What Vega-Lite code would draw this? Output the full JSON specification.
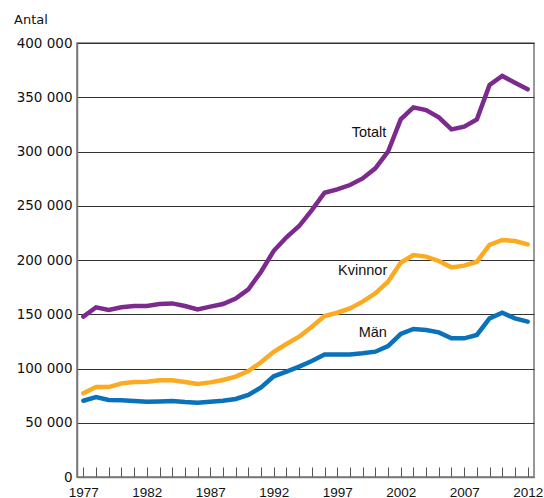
{
  "$schema": "https://vega.github.io/schema/vega-lite/v6.json",
  "width": 457,
  "height": 434,
  "autosize": {"type": "none"},
  "padding": {"left": 77, "top": 43, "right": 10, "bottom": 21},
  "background": "white",
  "config": {
    "view": {"stroke": "#777", "strokeWidth": 1.5},
    "font": "Liberation Sans"
  },
  "resolve": {"axis": {"x": "independent"}},
  "datasets": {
    "series": [
      {"year": 1977, "serie": "Totalt", "antal": 147800},
      {"year": 1978, "serie": "Totalt", "antal": 156400},
      {"year": 1979, "serie": "Totalt", "antal": 153900},
      {"year": 1980, "serie": "Totalt", "antal": 156400},
      {"year": 1981, "serie": "Totalt", "antal": 157600},
      {"year": 1982, "serie": "Totalt", "antal": 157600},
      {"year": 1983, "serie": "Totalt", "antal": 159400},
      {"year": 1984, "serie": "Totalt", "antal": 160000},
      {"year": 1985, "serie": "Totalt", "antal": 157600},
      {"year": 1986, "serie": "Totalt", "antal": 154500},
      {"year": 1987, "serie": "Totalt", "antal": 157000},
      {"year": 1988, "serie": "Totalt", "antal": 159400},
      {"year": 1989, "serie": "Totalt", "antal": 164400},
      {"year": 1990, "serie": "Totalt", "antal": 173000},
      {"year": 1991, "serie": "Totalt", "antal": 189200},
      {"year": 1992, "serie": "Totalt", "antal": 208500},
      {"year": 1993, "serie": "Totalt", "antal": 220900},
      {"year": 1994, "serie": "Totalt", "antal": 231300},
      {"year": 1995, "serie": "Totalt", "antal": 246000},
      {"year": 1996, "serie": "Totalt", "antal": 262000},
      {"year": 1997, "serie": "Totalt", "antal": 265100},
      {"year": 1998, "serie": "Totalt", "antal": 269100},
      {"year": 1999, "serie": "Totalt", "antal": 275200},
      {"year": 2000, "serie": "Totalt", "antal": 284500},
      {"year": 2001, "serie": "Totalt", "antal": 299800},
      {"year": 2002, "serie": "Totalt", "antal": 329600},
      {"year": 2003, "serie": "Totalt", "antal": 340700},
      {"year": 2004, "serie": "Totalt", "antal": 338200},
      {"year": 2005, "serie": "Totalt", "antal": 331500},
      {"year": 2006, "serie": "Totalt", "antal": 320400},
      {"year": 2007, "serie": "Totalt", "antal": 322900},
      {"year": 2008, "serie": "Totalt", "antal": 329600},
      {"year": 2009, "serie": "Totalt", "antal": 361300},
      {"year": 2010, "serie": "Totalt", "antal": 369600},
      {"year": 2011, "serie": "Totalt", "antal": 363400},
      {"year": 2012, "serie": "Totalt", "antal": 357300},
      {"year": 1977, "serie": "Kvinnor", "antal": 77100},
      {"year": 1978, "serie": "Kvinnor", "antal": 82900},
      {"year": 1979, "serie": "Kvinnor", "antal": 82900},
      {"year": 1980, "serie": "Kvinnor", "antal": 86300},
      {"year": 1981, "serie": "Kvinnor", "antal": 87600},
      {"year": 1982, "serie": "Kvinnor", "antal": 87900},
      {"year": 1983, "serie": "Kvinnor", "antal": 89100},
      {"year": 1984, "serie": "Kvinnor", "antal": 89100},
      {"year": 1985, "serie": "Kvinnor", "antal": 87600},
      {"year": 1986, "serie": "Kvinnor", "antal": 85700},
      {"year": 1987, "serie": "Kvinnor", "antal": 87200},
      {"year": 1988, "serie": "Kvinnor", "antal": 89400},
      {"year": 1989, "serie": "Kvinnor", "antal": 92500},
      {"year": 1990, "serie": "Kvinnor", "antal": 97700},
      {"year": 1991, "serie": "Kvinnor", "antal": 105700},
      {"year": 1992, "serie": "Kvinnor", "antal": 115400},
      {"year": 1993, "serie": "Kvinnor", "antal": 122600},
      {"year": 1994, "serie": "Kvinnor", "antal": 129300},
      {"year": 1995, "serie": "Kvinnor", "antal": 138500},
      {"year": 1996, "serie": "Kvinnor", "antal": 148400},
      {"year": 1997, "serie": "Kvinnor", "antal": 151400},
      {"year": 1998, "serie": "Kvinnor", "antal": 155400},
      {"year": 1999, "serie": "Kvinnor", "antal": 161600},
      {"year": 2000, "serie": "Kvinnor", "antal": 169300},
      {"year": 2001, "serie": "Kvinnor", "antal": 180000},
      {"year": 2002, "serie": "Kvinnor", "antal": 197500},
      {"year": 2003, "serie": "Kvinnor", "antal": 204600},
      {"year": 2004, "serie": "Kvinnor", "antal": 203100},
      {"year": 2005, "serie": "Kvinnor", "antal": 199100},
      {"year": 2006, "serie": "Kvinnor", "antal": 193200},
      {"year": 2007, "serie": "Kvinnor", "antal": 194800},
      {"year": 2008, "serie": "Kvinnor", "antal": 198400},
      {"year": 2009, "serie": "Kvinnor", "antal": 214000},
      {"year": 2010, "serie": "Kvinnor", "antal": 218500},
      {"year": 2011, "serie": "Kvinnor", "antal": 217500},
      {"year": 2012, "serie": "Kvinnor", "antal": 214400},
      {"year": 1977, "serie": "Män", "antal": 70300},
      {"year": 1978, "serie": "Män", "antal": 73700},
      {"year": 1979, "serie": "Män", "antal": 71000},
      {"year": 1980, "serie": "Män", "antal": 70700},
      {"year": 1981, "serie": "Män", "antal": 70000},
      {"year": 1982, "serie": "Män", "antal": 69400},
      {"year": 1983, "serie": "Män", "antal": 69700},
      {"year": 1984, "serie": "Män", "antal": 70000},
      {"year": 1985, "serie": "Män", "antal": 69100},
      {"year": 1986, "serie": "Män", "antal": 68500},
      {"year": 1987, "serie": "Män", "antal": 69400},
      {"year": 1988, "serie": "Män", "antal": 70300},
      {"year": 1989, "serie": "Män", "antal": 71900},
      {"year": 1990, "serie": "Män", "antal": 75600},
      {"year": 1991, "serie": "Män", "antal": 82600},
      {"year": 1992, "serie": "Män", "antal": 92800},
      {"year": 1993, "serie": "Män", "antal": 97100},
      {"year": 1994, "serie": "Män", "antal": 101700},
      {"year": 1995, "serie": "Män", "antal": 106900},
      {"year": 1996, "serie": "Män", "antal": 113000},
      {"year": 1997, "serie": "Män", "antal": 113000},
      {"year": 1998, "serie": "Män", "antal": 113000},
      {"year": 1999, "serie": "Män", "antal": 114000},
      {"year": 2000, "serie": "Män", "antal": 115500},
      {"year": 2001, "serie": "Män", "antal": 120700},
      {"year": 2002, "serie": "Män", "antal": 131800},
      {"year": 2003, "serie": "Män", "antal": 136400},
      {"year": 2004, "serie": "Män", "antal": 135500},
      {"year": 2005, "serie": "Män", "antal": 133300},
      {"year": 2006, "serie": "Män", "antal": 127800},
      {"year": 2007, "serie": "Män", "antal": 127800},
      {"year": 2008, "serie": "Män", "antal": 130900},
      {"year": 2009, "serie": "Män", "antal": 146200},
      {"year": 2010, "serie": "Män", "antal": 151400},
      {"year": 2011, "serie": "Män", "antal": 146200},
      {"year": 2012, "serie": "Män", "antal": 143200}
    ],
    "labels": [
      {"year": 1999.5, "antal": 317000, "serie": "Totalt"},
      {"year": 1999.0, "antal": 190100, "serie": "Kvinnor"},
      {"year": 1999.8, "antal": 132700, "serie": "Män"}
    ]
  },
  "layer": [
    {
      "data": {"name": "series"},
      "mark": {"type": "line", "strokeWidth": 4.5, "strokeJoin": "miter", "strokeCap": "round", "clip": true},
      "encoding": {
        "x": {
          "field": "year",
          "type": "quantitative",
          "scale": {"domain": [1976.5, 2012.5], "nice": false, "zero": false},
          "axis": {
            "orient": "bottom",
            "title": null,
            "values": [1977,1978,1979,1980,1981,1982,1983,1984,1985,1986,1987,1988,1989,1990,1991,1992,1993,1994,1995,1996,1997,1998,1999,2000,2001,2002,2003,2004,2005,2006,2007,2008,2009,2010,2011,2012],
            "labels": false,
            "grid": false,
            "domainColor": "#777",
            "domainWidth": 1.5,
            "tickColor": "#555",
            "tickWidth": 1,
            "tickSize": -10
          }
        },
        "y": {
          "field": "antal",
          "type": "quantitative",
          "scale": {"domain": [0, 400000], "nice": false},
          "axis": {
            "title": null,
            "values": [0, 50000, 100000, 150000, 200000, 250000, 300000, 350000, 400000],
            "labelExpr": "replace(format(datum.value, ','), ',', ' ')",
            "grid": true,
            "gridColor": "#333",
            "gridWidth": 1,
            "ticks": false,
            "domainColor": "#777",
            "domainWidth": 1.5,
            "labelPadding": 5,
            "labelFontSize": 13.5,
            "labelFont": "DejaVu Sans",
            "labelColor": "#111"
          }
        },
        "color": {
          "field": "serie",
          "type": "nominal",
          "scale": {"domain": ["Totalt", "Kvinnor", "Män"], "range": ["#7d2a8f", "#fbaa22", "#0a72bb"]},
          "legend": null
        }
      }
    },
    {
      "data": {"name": "labels"},
      "mark": {"type": "text", "fontSize": 14.5, "font": "Liberation Sans", "color": "#111", "align": "center", "baseline": "middle"},
      "encoding": {
        "x": {
          "field": "year",
          "type": "quantitative",
          "axis": {
            "orient": "bottom",
            "title": null,
            "values": [1977, 1982, 1987, 1992, 1997, 2002, 2007, 2012],
            "format": "d",
            "ticks": false,
            "domain": false,
            "grid": false,
            "labelPadding": 8,
            "labelFontSize": 13.5,
            "labelColor": "#111",
            "labelFont": "Liberation Sans",
            "labelOverlap": false,
            "labelFlush": false
          }
        },
        "y": {"field": "antal", "type": "quantitative"},
        "text": {"field": "serie"}
      }
    },
    {
      "data": {"values": [{"t": "Antal"}]},
      "mark": {"type": "text", "fontSize": 13, "font": "DejaVu Sans", "color": "#111", "align": "left", "baseline": "middle", "x": -63, "y": -23},
      "encoding": {"text": {"field": "t"}}
    }
  ]
}
